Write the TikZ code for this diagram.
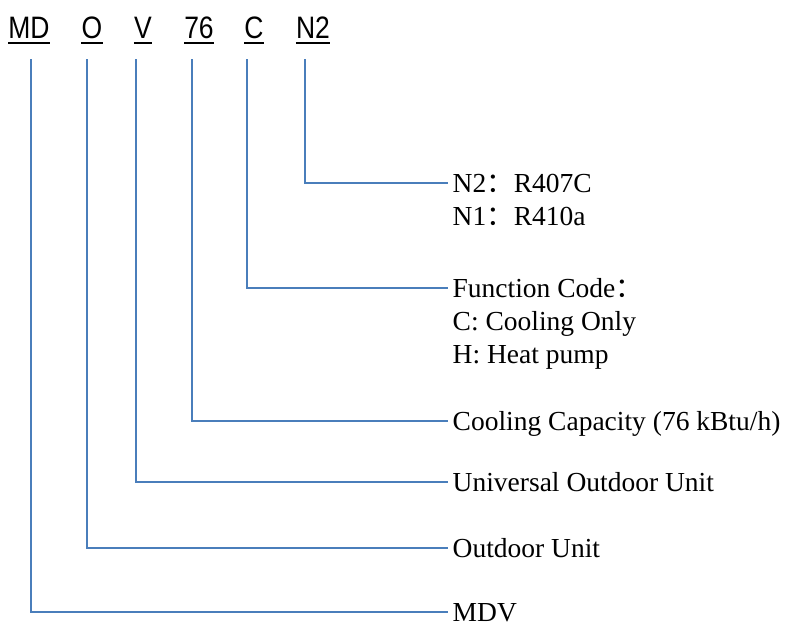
\documentclass[tikz,border=0pt]{standalone}
\usepackage{fontspec}
\setmainfont{Liberation Serif}
\newfontfamily\arialfont{Liberation Sans}
\newfontfamily\cjk{Noto Sans CJK SC}
\definecolor{lineblue}{HTML}{4A7EBB}
\begin{document}
\begin{tikzpicture}[x=1pt,y=-1pt,
  conn/.style={draw=lineblue, line width=2pt},
  code/.style={font=\arialfont\fontsize{26.5}{30}\selectfont, inner sep=0pt, anchor=base},
  lab/.style={font=\fontsize{27.5}{32}\selectfont, anchor=west, inner xsep=4.5pt, inner ysep=0pt, text height=23.2pt, text depth=5pt},
  ul/.style={line width=2pt, black}]
\useasboundingbox (0,0) rectangle (789,621);
% code letters
\node[code] (md)  at (29,38)  {\scalebox{1}[1.17]{MD}};
\node[code] (o)   at (92,38)  {\scalebox{1}[1.17]{O}};
\node[code] (v)   at (143,38) {\scalebox{1}[1.17]{V}};
\node[code] (n76) at (199,38) {\scalebox{1}[1.17]{76}};
\node[code] (c)   at (254,38) {\scalebox{1}[1.17]{C}};
\node[code] (n2)  at (313,38) {\scalebox{1}[1.17]{N2}};
\foreach \n in {md,o,v,n76,c,n2}
  \draw[ul] ([yshift=-5pt]\n.base west) -- ([yshift=-5pt]\n.base east);
% connector starts
\coordinate (s-md)  at (31,59);
\coordinate (s-o)   at (87,59);
\coordinate (s-v)   at (136,59);
\coordinate (s-76)  at (192,59);
\coordinate (s-c)   at (247,59);
\coordinate (s-n2)  at (305,59);
% labels
\node[lab] (l-n2)  at (448,183) {N2{\cjk ：}R407C};
\node[lab] (l-n1)  at (448,216) {N1{\cjk ：}R410a};
\node[lab] (l-fc)  at (448,288) {Function Code{\cjk ：}};
\node[lab] (l-cc)  at (448,321) {C: Cooling Only};
\node[lab] (l-hp)  at (448,354) {H: Heat pump};
\node[lab] (l-cap) at (448,421) {Cooling Capacity (76 kBtu/h)};
\node[lab] (l-uou) at (448,482) {Universal Outdoor Unit};
\node[lab] (l-ou)  at (448,548) {Outdoor Unit};
\node[lab] (l-mdv) at (448,612) {MDV};
% connectors
\draw[conn] (s-n2) |- (l-n2.west);
\draw[conn] (s-c)  |- (l-fc.west);
\draw[conn] (s-76) |- (l-cap.west);
\draw[conn] (s-v)  |- (l-uou.west);
\draw[conn] (s-o)  |- (l-ou.west);
\draw[conn] (s-md) |- (l-mdv.west);
\end{tikzpicture}
\end{document}
